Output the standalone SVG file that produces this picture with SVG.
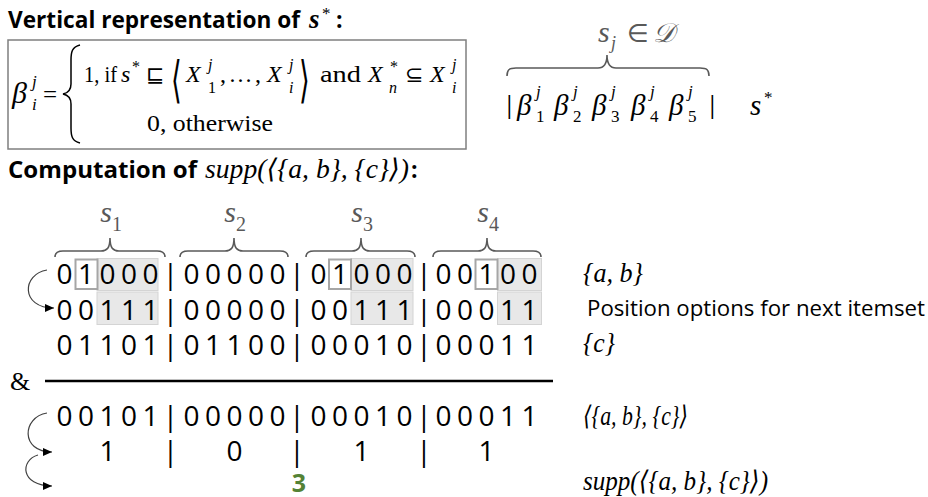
<svg xmlns="http://www.w3.org/2000/svg" width="928" height="497" viewBox="0 0 928 497">
<style>
.sb{font-family:"Open Sans","Noto Sans","Liberation Sans",sans-serif;font-weight:700;fill:#000}
.s{font-family:"Open Sans","Noto Sans","Liberation Sans",sans-serif;fill:#000}
.m{font-family:"Liberation Serif","DejaVu Serif",serif;font-style:normal;fill:#000}
.mi{font-family:"Liberation Serif","DejaVu Serif",serif;font-style:italic;fill:#000}
.dl{font-family:"DejaVu Sans",sans-serif;fill:#000}
.dig{font-family:"Open Sans","Noto Sans","Liberation Sans",sans-serif;font-size:28px;fill:#000;text-anchor:middle}
.g{fill:#595959}
.brace{fill:none;stroke:#595959;stroke-width:1.6}
.shade{fill:#e8e8e8;stroke:#d4d4d4;stroke-width:1}
.sel{fill:#fff;stroke:#a6a6a6;stroke-width:2}
.arr{fill:none;stroke:#404040;stroke-width:1.2}
</style>
<defs>
<marker id="ah" markerWidth="10" markerHeight="10" refX="9" refY="5" orient="auto" markerUnits="userSpaceOnUse">
<path d="M0,1 L9,5 L0,9 Z" fill="#000"/>
</marker>
</defs>

<g id="title-vertical">
<text class="sb" x="8" y="28" font-size="23" textLength="292" lengthAdjust="spacingAndGlyphs">Vertical representation of</text>
<text class="mi" x="309" y="28" font-size="27" font-weight="700">s</text>
<text class="m" x="322" y="19" font-size="17">*</text>
<text class="sb" x="336" y="28" font-size="23">:</text>
</g>

<g id="definition-box">
<rect x="8" y="40" width="458" height="109" fill="none" stroke="#7f7f7f" stroke-width="1.5"/>
<text class="mi" x="12" y="103" font-size="30">β</text>
<text class="mi" x="32" y="87" font-size="17">j</text>
<text class="mi" x="32" y="110" font-size="17">i</text>
<text class="m" x="43" y="103" font-size="25">=</text>
<path d="M80,45 C72,47 71,52 71,60 L71,84 C71,90 68,93 63,94 C68,95 71,98 71,104 L71,128 C71,136 72,141 80,143" fill="none" stroke="#000" stroke-width="1.5"/>
<text class="m" x="84" y="82" font-size="24" textLength="33" lengthAdjust="spacingAndGlyphs">1, if</text>
<text class="mi" x="121" y="82" font-size="24">s</text>
<text class="m" x="132" y="72" font-size="16">*</text>
<text class="dl" x="146" y="82" font-size="22">⊑</text>
<text class="dl" transform="translate(171,97) scale(0.55,1)" font-size="50">⟨</text>
<text class="mi" x="186" y="82" font-size="24">X</text>
<text class="mi" x="208" y="70" font-size="16">j</text>
<text class="m" x="208" y="93" font-size="16">1</text>
<text class="m" x="220" y="82" font-size="24" textLength="41" lengthAdjust="spacing">, … ,</text>
<text class="mi" x="267" y="82" font-size="24">X</text>
<text class="mi" x="289" y="70" font-size="16">j</text>
<text class="mi" x="289" y="93" font-size="16">i</text>
<text class="dl" transform="translate(299,97) scale(0.55,1)" font-size="50">⟩</text>
<text class="m" x="320" y="82" font-size="24" textLength="41" lengthAdjust="spacingAndGlyphs">and</text>
<text class="mi" x="368" y="82" font-size="24">X</text>
<text class="m" x="390" y="72" font-size="16">*</text>
<text class="mi" x="389" y="93" font-size="16">n</text>
<text class="dl" x="405" y="82" font-size="22">⊆</text>
<text class="mi" x="430" y="82" font-size="24">X</text>
<text class="mi" x="452" y="70" font-size="16">j</text>
<text class="mi" x="452" y="93" font-size="16">i</text>
<text class="m" x="147" y="131" font-size="24" textLength="126" lengthAdjust="spacingAndGlyphs">0, otherwise</text>
</g>

<g id="vector-layout">
<text class="mi g" x="598" y="42" font-size="30">s</text>
<text class="mi g" x="611" y="49" font-size="18">j</text>
<text class="dl g" x="627" y="42" font-size="25">∈</text>
<text class="mi g" x="653" y="42" font-size="27">𝒟</text>
<path class="brace" d="M507,76 C507,70 509,68 516,68 L598,68 C604,68 607,64 607,55 C607,64 610,68 616,68 L700,68 C707,68 709,70 709,76"/>
<text class="s" x="503" y="113" font-size="23">|</text>
<text class="mi" x="517" y="115" font-size="29">β</text><text class="mi" x="536" y="97" font-size="17">j</text><text class="m" x="536" y="122" font-size="17">1</text>
<text class="mi" x="554" y="115" font-size="29">β</text><text class="mi" x="573" y="97" font-size="17">j</text><text class="m" x="573" y="122" font-size="17">2</text>
<text class="mi" x="592" y="115" font-size="29">β</text><text class="mi" x="611" y="97" font-size="17">j</text><text class="m" x="611" y="122" font-size="17">3</text>
<text class="mi" x="631" y="115" font-size="29">β</text><text class="mi" x="650" y="97" font-size="17">j</text><text class="m" x="650" y="122" font-size="17">4</text>
<text class="mi" x="669" y="115" font-size="29">β</text><text class="mi" x="688" y="97" font-size="17">j</text><text class="m" x="688" y="122" font-size="17">5</text>
<text class="s" x="706" y="113" font-size="23">|</text>
<text class="mi" x="750" y="115" font-size="29">s</text>
<text class="m" x="764" y="103" font-size="17">*</text>
</g>

<g id="title-computation">
<text class="sb" x="8" y="178" font-size="23" textLength="189" lengthAdjust="spacingAndGlyphs">Computation of</text>
<text class="mi" x="205" y="178" font-size="27" textLength="204" lengthAdjust="spacingAndGlyphs">supp(⟨{a, b}, {c}⟩)</text>
<text class="sb" x="411" y="178" font-size="23">:</text>
</g>

<g id="sequence-labels">
<text class="mi g" x="112" y="222" font-size="30" text-anchor="end">s</text><text class="m g" x="112" y="231" font-size="20">1</text>
<text class="mi g" x="236" y="222" font-size="30" text-anchor="end">s</text><text class="m g" x="236" y="231" font-size="20">2</text>
<text class="mi g" x="363" y="222" font-size="30" text-anchor="end">s</text><text class="m g" x="363" y="231" font-size="20">3</text>
<text class="mi g" x="489" y="222" font-size="30" text-anchor="end">s</text><text class="m g" x="489" y="231" font-size="20">4</text>
<path class="brace" d="M55,257 C55,253 57,251 63,251 L101,251 C107,251 110,248 110,238 C110,248 113,251 119,251 L157,251 C163,251 165,253 165,257"/>
<path class="brace" d="M180,257 C180,253 182,251 188,251 L225,251 C231,251 234,248 234,238 C234,248 237,251 243,251 L280,251 C286,251 288,253 288,257"/>
<path class="brace" d="M306,257 C306,253 308,251 314,251 L352,251 C358,251 361,248 361,238 C361,248 364,251 370,251 L407,251 C413,251 415,253 415,257"/>
<path class="brace" d="M433,257 C433,253 435,251 441,251 L478,251 C484,251 487,248 487,238 C487,248 490,251 496,251 L533,251 C539,251 541,253 541,257"/>
</g>

<g id="row-ab">
<rect class="shade" x="97" y="258.5" width="61" height="32"/>
<rect class="sel" x="75.5" y="259.5" width="22" height="29.5"/>
<rect class="shade" x="351" y="258.5" width="62" height="32"/>
<rect class="sel" x="329" y="259.5" width="22" height="29.5"/>
<rect class="shade" x="497.5" y="258.5" width="44" height="32"/>
<rect class="sel" x="475.5" y="259.5" width="22" height="29.5"/>
<text class="dig" x="64.5 86 107.5 129 150.5 170.5 191.5 213 234.5 256 277.5 297 318.5 340 361.5 383 404.5 424 443.5 465 486.5 508 529.5" y="284">01000|00000|01000|00100</text>
<text class="mi" x="583" y="282" font-size="27" textLength="60" lengthAdjust="spacingAndGlyphs">{a, b}</text>
</g>

<g id="row-positions">
<rect class="shade" x="97" y="292" width="61" height="32.5"/>
<rect class="shade" x="351" y="292" width="62" height="32.5"/>
<rect class="shade" x="497.5" y="292" width="44" height="32.5"/>
<text class="dig" x="64.5 86 107.5 129 150.5 170.5 191.5 213 234.5 256 277.5 297 318.5 340 361.5 383 404.5 424 443.5 465 486.5 508 529.5" y="319.5">00111|00000|00111|00011</text>
<text class="s" x="587" y="316" font-size="21" textLength="338" lengthAdjust="spacingAndGlyphs">Position options for next itemset</text>
</g>

<g id="row-c">
<text class="dig" x="64.5 86 107.5 129 150.5 170.5 191.5 213 234.5 256 277.5 297 318.5 340 361.5 383 404.5 424 443.5 465 486.5 508 529.5" y="355">01101|01100|00010|00011</text>
<text class="mi" x="583" y="352" font-size="27" textLength="32" lengthAdjust="spacingAndGlyphs">{c}</text>
</g>

<g id="and-rule">
<text class="m" x="10" y="390" font-size="26">&amp;</text>
<line x1="45" y1="381" x2="553" y2="381" stroke="#000" stroke-width="2.5"/>
</g>

<g id="row-result">
<text class="dig" x="64.5 86 107.5 129 150.5 170.5 191.5 213 234.5 256 277.5 297 318.5 340 361.5 383 404.5 424 443.5 465 486.5 508 529.5" y="426">00101|00000|00010|00011</text>
<text class="mi" x="583" y="425" font-size="27" textLength="105" lengthAdjust="spacingAndGlyphs">⟨{a, b}, {c}⟩</text>
</g>

<g id="row-per-sequence">
<text class="dig" x="107.5 170.5 234.5 297 361.5 424 486.5" y="461">1|0|1|1</text>
</g>

<g id="total">
<text class="sb" x="299" y="492" font-size="25" text-anchor="middle" style="fill:#548235">3</text>
<text class="mi" x="583" y="490" font-size="27" textLength="185" lengthAdjust="spacingAndGlyphs">supp(⟨{a, b}, {c}⟩)</text>
</g>

<g id="connectors">
<path class="arr" d="M47,270 C22,274 20,308 54,308" marker-end="url(#ah)"/>
<path class="arr" d="M47,413 C22,417 20,452 52,452" marker-end="url(#ah)"/>
<path class="arr" d="M38,455 C20,460 20,486 52,486" marker-end="url(#ah)"/>
</g>
</svg>
